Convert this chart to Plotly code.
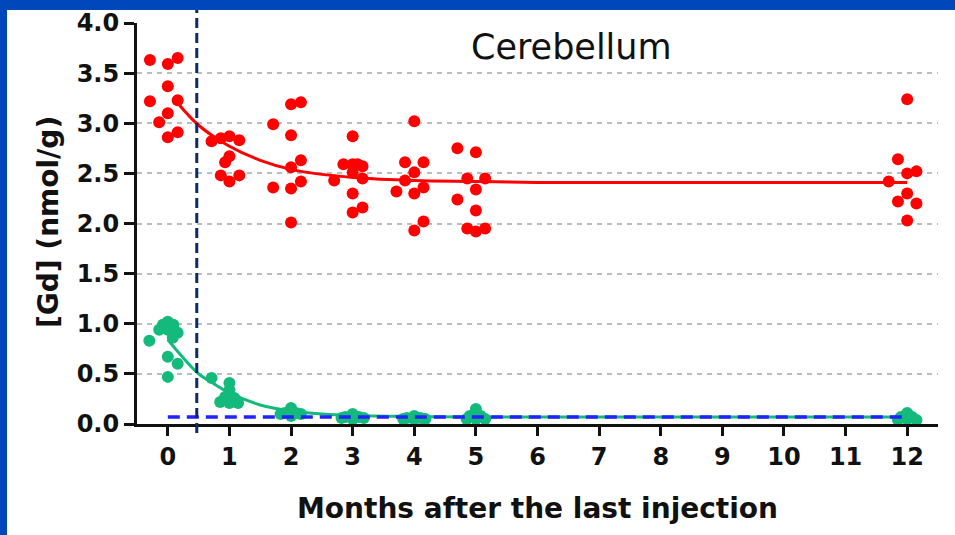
import plotly.graph_objects as go

# ---------------- data ----------------
months_ticks = [0, 1, 2, 3, 4, 5, 6, 7, 8, 9, 10, 11, 12]
y_ticks = [0.0, 0.5, 1.0, 1.5, 2.0, 2.5, 3.0, 3.5, 4.0]

red_x = [-0.29, 0.0, 0.16, 0.0, -0.29, 0.16, 0.0, -0.14, 0.0, 0.16,
         0.71, 0.86, 1.0, 1.16, 1.0, 0.93, 0.86, 1.0, 1.16,
         1.71, 2.0, 2.16, 2.0, 2.0, 2.16, 2.16, 1.71, 2.0, 2.0,
         2.70, 2.85, 3.0, 3.0, 3.08, 3.16, 3.0, 3.16, 3.0, 3.0, 3.16,
         3.71, 3.85, 3.85, 4.0, 4.0, 4.15, 4.15, 4.0, 4.0, 4.15,
         4.70, 5.0, 4.70, 4.86, 5.0, 5.15, 5.0, 4.86, 5.0, 5.15,
         12.0, 11.85, 12.0, 12.15, 11.70, 12.0, 11.85, 12.15, 12.0]
red_y = [3.63, 3.59, 3.65, 3.37, 3.22, 3.23, 3.10, 3.01, 2.86, 2.91,
         2.82, 2.85, 2.87, 2.83, 2.67, 2.61, 2.48, 2.42, 2.48,
         2.99, 3.19, 3.21, 2.88, 2.56, 2.63, 2.42, 2.36, 2.35, 2.01,
         2.43, 2.59, 2.87, 2.59, 2.59, 2.57, 2.51, 2.45, 2.30, 2.11, 2.16,
         2.32, 2.43, 2.61, 3.02, 2.51, 2.61, 2.36, 2.30, 1.93, 2.02,
         2.75, 2.71, 2.24, 2.45, 2.34, 2.45, 2.13, 1.95, 1.92, 1.95,
         3.24, 2.64, 2.50, 2.52, 2.42, 2.30, 2.22, 2.20, 2.03]

green_x = [-0.30, -0.14, 0.0, 0.0, -0.08, 0.09, 0.16, 0.0, 0.16, 0.0, 0.08,
           0.71, 1.0, 1.0, 0.93, 1.08, 1.0, 0.85, 1.14, 1.0,
           2.0, 1.90, 2.08, 2.0, 1.83, 2.16, 2.0,
           3.0, 2.88, 3.10, 3.0, 2.82, 3.18, 3.0,
           4.0, 3.88, 4.10, 4.0, 3.82, 4.18,
           5.0, 4.90, 5.08, 5.0, 4.85, 5.15, 5.0,
           12.0, 11.90, 12.08, 12.0, 11.85, 12.15, 12.0]
green_y = [0.83, 0.94, 1.02, 0.94, 0.99, 0.99, 0.91, 0.67, 0.60, 0.47, 0.86,
           0.46, 0.41, 0.34, 0.27, 0.26, 0.21, 0.22, 0.21, 0.30,
           0.16, 0.11, 0.11, 0.08, 0.10, 0.10, 0.12,
           0.10, 0.07, 0.07, 0.05, 0.06, 0.06, 0.08,
           0.08, 0.06, 0.06, 0.05, 0.05, 0.05,
           0.15, 0.08, 0.08, 0.05, 0.05, 0.05, 0.10,
           0.11, 0.07, 0.07, 0.05, 0.04, 0.04, 0.08]

red_curve_x = [0.15, 0.5, 1.0, 1.5, 2.0, 2.5, 3.0, 4.0, 5.0, 6.0, 8.0, 12.0]
red_curve_y = [3.21, 2.98, 2.77, 2.63, 2.54, 2.49, 2.46, 2.43, 2.42, 2.41, 2.41, 2.41]

green_curve_x = [0.0, 0.25, 0.5, 0.75, 1.0, 1.5, 2.0, 2.5, 3.0, 4.0, 5.0, 8.0, 12.0]
green_curve_y = [0.84, 0.66, 0.50, 0.40, 0.31, 0.19, 0.13, 0.10, 0.085, 0.075, 0.07, 0.07, 0.07]

baseline_x = [0, 12]
baseline_y = [0.07, 0.07]
injection_line_x = 0.47

# ---------------- geometry ----------------
W, H = 955, 535
ML, MR, MT, MB = 137, 17, 23, 111
PW, PH = W - ML - MR, H - MT - MB


def px_x(px):
    return (px - ML) / PW


def px_y(py):
    return (H - MB - py) / PH


RED = "#FF0000"
GREEN = "#14BA7C"
FRAME = "#0047BB"

fig = go.Figure()

fig.add_trace(go.Scatter(x=green_curve_x, y=green_curve_y, mode="lines",
                         line=dict(color=GREEN, width=3, shape="spline"),
                         showlegend=False))
fig.add_trace(go.Scatter(x=red_curve_x, y=red_curve_y, mode="lines",
                         line=dict(color=RED, width=3, shape="spline"),
                         showlegend=False))
fig.add_trace(go.Scatter(x=green_x, y=green_y, mode="markers",
                         marker=dict(color=GREEN, size=12),
                         cliponaxis=False, showlegend=False))
fig.add_trace(go.Scatter(x=baseline_x, y=baseline_y, mode="lines",
                         line=dict(color="#2222FF", width=3.5, dash="12px,7px"),
                         hoverinfo="skip", showlegend=False))
fig.add_trace(go.Scatter(x=red_x, y=red_y, mode="markers",
                         marker=dict(color=RED, size=12),
                         cliponaxis=False, showlegend=False))

shapes = [
    # vertical dashed injection line
    dict(type="line", xref="x", yref="paper", x0=injection_line_x, x1=injection_line_x,
         y0=px_y(433), y1=px_y(10), line=dict(color="#0B2A66", width=3, dash="10px,5px"),
         layer="above"),
    # blue frame strips
    dict(type="rect", xref="paper", yref="paper", x0=px_x(0), x1=px_x(7),
         y0=px_y(H), y1=px_y(0), fillcolor=FRAME, line=dict(width=0), layer="above"),
    dict(type="rect", xref="paper", yref="paper", x0=px_x(0), x1=px_x(W),
         y0=px_y(10), y1=px_y(0), fillcolor=FRAME, line=dict(width=0), layer="above"),
]

annotations = [
    dict(text="Cerebellum", xref="paper", yref="paper", x=px_x(571), y=px_y(47),
         showarrow=False, font=dict(family="DejaVu Sans", size=35, color="#111111"),
         xanchor="center", yanchor="middle"),
    dict(text="Months after the last injection", xref="paper", yref="paper",
         x=px_x(537), y=px_y(508), showarrow=False,
         font=dict(family="DejaVu Sans", size=28, color="#111111", weight="bold"),
         xanchor="center", yanchor="middle"),
    dict(text="[Gd] (nmol/g)", xref="paper", yref="paper",
         x=px_x(49), y=px_y(222), showarrow=False, textangle=-90,
         font=dict(family="DejaVu Sans", size=28, color="#111111", weight="bold"),
         xanchor="center", yanchor="middle"),
]

fig.update_layout(
    width=W, height=H,
    margin=dict(l=ML, r=MR, t=MT, b=MB, autoexpand=False),
    paper_bgcolor="white", plot_bgcolor="white",
    shapes=shapes, annotations=annotations,
    showlegend=False,
)

fig.update_xaxes(
    range=[-0.5, 12.5], tickvals=months_ticks, ticktext=[str(m) for m in months_ticks],
    showgrid=False, zeroline=False,
    showline=True, linecolor="#111111", linewidth=3,
    ticks="outside", ticklen=9, tickwidth=3, tickcolor="#111111",
    tickfont=dict(family="DejaVu Sans", size=24, color="#111111", weight="bold"),
)
fig.update_yaxes(
    range=[0, 4], tickvals=y_ticks, ticktext=[f"{v:.1f}" for v in y_ticks],
    showgrid=True, gridcolor="#BDBDBD", gridwidth=2, griddash="5px,5px",
    zeroline=False,
    showline=True, linecolor="#111111", linewidth=3,
    ticks="outside", ticklen=10, tickwidth=3, tickcolor="#111111",
    tickfont=dict(family="DejaVu Sans", size=24, color="#111111", weight="bold"),
)

fig.write_html(
    "out.html",
    config={"displayModeBar": False},
    post_script="document.body.style.margin='0';document.body.style.overflow='hidden';",
)
